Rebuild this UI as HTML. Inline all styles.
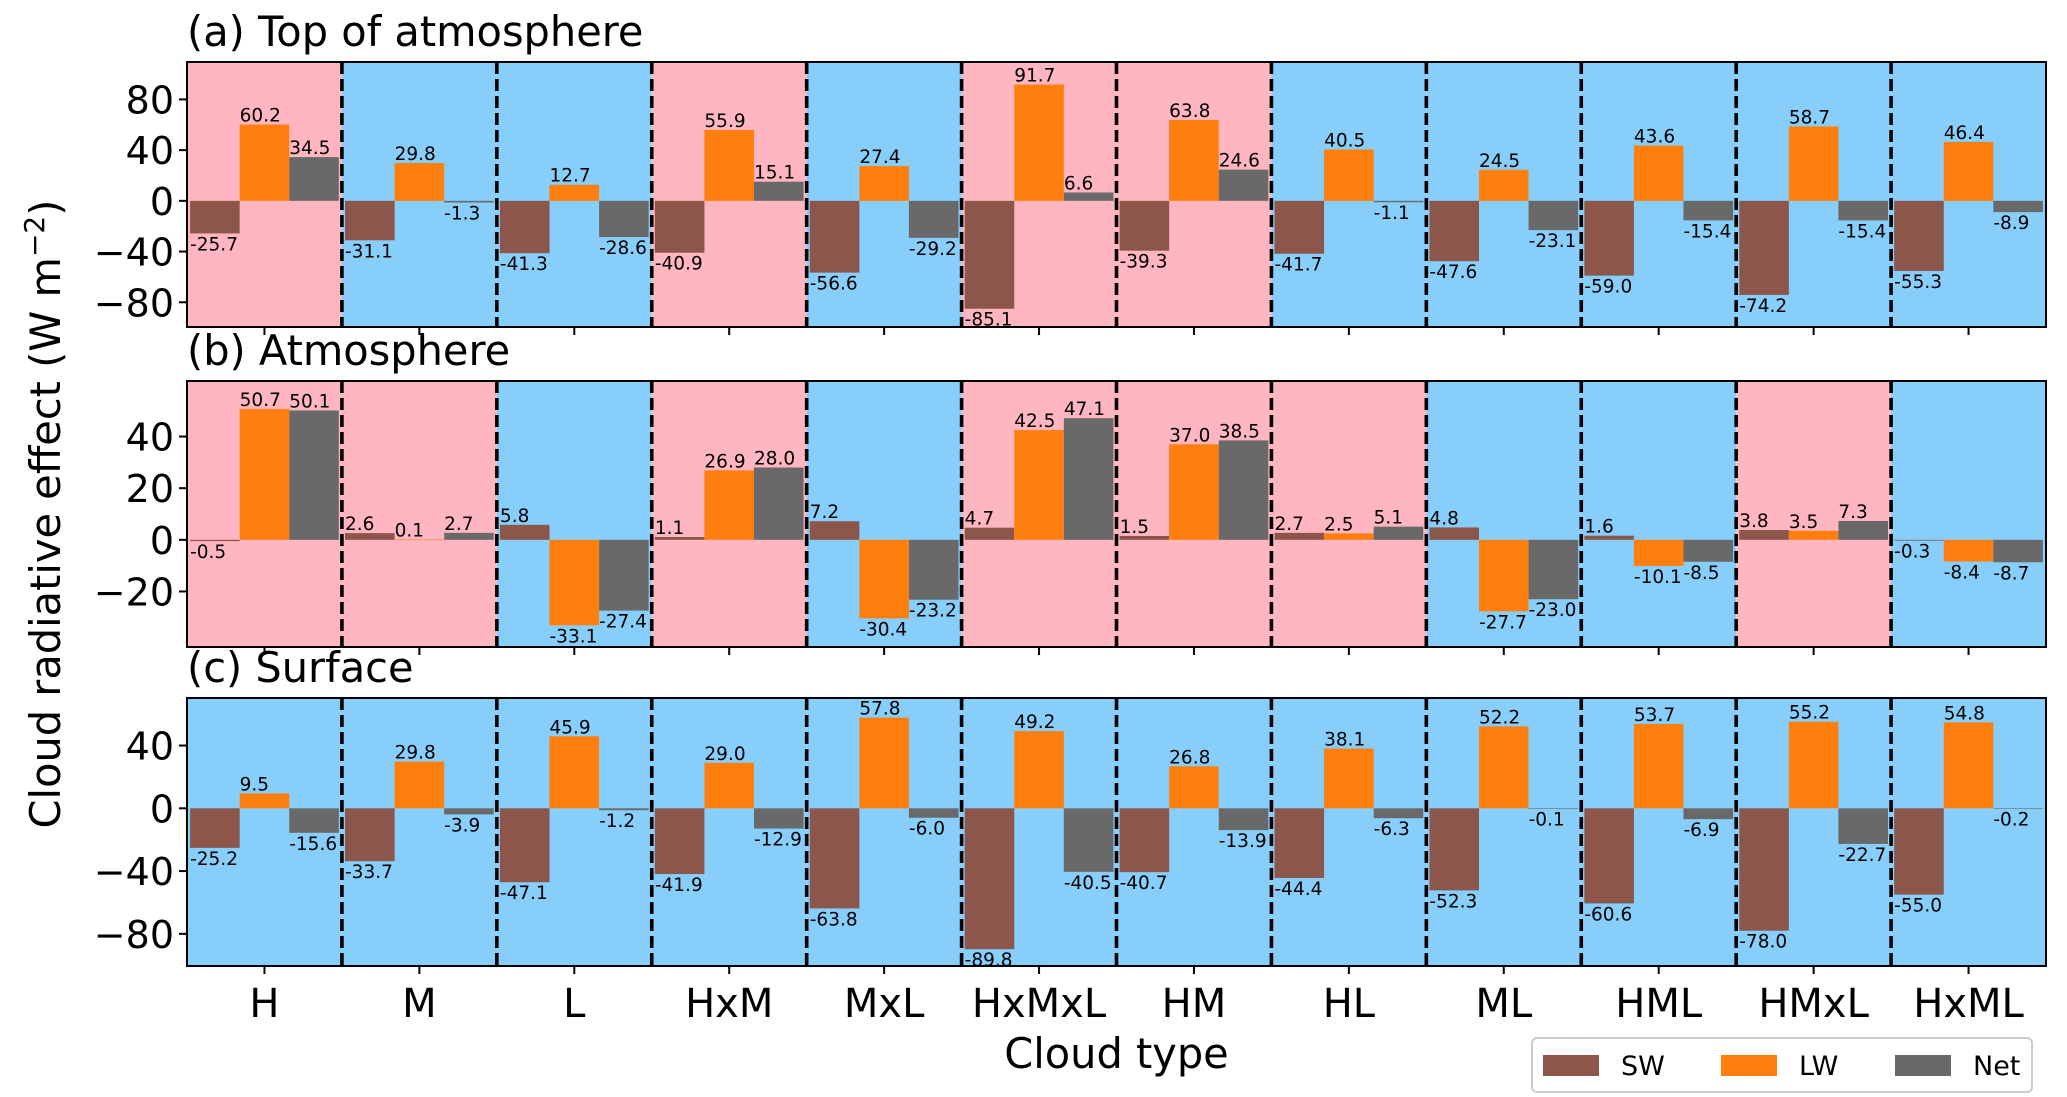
<!DOCTYPE html>
<html><head><meta charset="utf-8"><style>
html,body{margin:0;padding:0;background:#fff;}
svg{display:block;font-family:"DejaVu Sans","Liberation Sans",sans-serif;}
</style></head><body>
<svg id="chart" width="2067" height="1097" viewBox="0 0 2067 1097" xmlns="http://www.w3.org/2000/svg"></svg>
<script>
const categories = ["H","M","L","HxM","MxL","HxMxL","HM","HL","ML","HML","HMxL","HxML"];
const toaSW = [-25.7,-31.1,-41.3,-40.9,-56.6,-85.1,-39.3,-41.7,-47.6,-59.0,-74.2,-55.3];
const toaLW = [60.2,29.8,12.7,55.9,27.4,91.7,63.8,40.5,24.5,43.6,58.7,46.4];
const toaNet = [34.5,-1.3,-28.6,15.1,-29.2,6.6,24.6,-1.1,-23.1,-15.4,-15.4,-8.9];
const atmSW = [-0.5,2.6,5.8,1.1,7.2,4.7,1.5,2.7,4.8,1.6,3.8,-0.3];
const atmLW = [50.7,0.1,-33.1,26.9,-30.4,42.5,37.0,2.5,-27.7,-10.1,3.5,-8.4];
const atmNet = [50.1,2.7,-27.4,28.0,-23.2,47.1,38.5,5.1,-23.0,-8.5,7.3,-8.7];
const sfcSW = [-25.2,-33.7,-47.1,-41.9,-63.8,-89.8,-40.7,-44.4,-52.3,-60.6,-78.0,-55.0];
const sfcLW = [9.5,29.8,45.9,29.0,57.8,49.2,26.8,38.1,52.2,53.7,55.2,54.8];
const sfcNet = [-15.6,-3.9,-1.2,-12.9,-6.0,-40.5,-13.9,-6.3,-0.1,-6.9,-22.7,-0.2];
const toaTicks = [80,40,0,-40,-80];
const atmTicks = [40,20,0,-20];
const sfcTicks = [40,0,-40,-80];
const seriesNames = ["SW","LW","Net"];

const NS="http://www.w3.org/2000/svg";
const svg=document.getElementById('chart');
function mk(tag,attrs,parent){const e=document.createElementNS(NS,tag);for(const k in attrs)e.setAttribute(k,attrs[k]);(parent||svg).appendChild(e);return e;}
const colors={SW:"#8c564b",LW:"#ff7f0e",Net:"#696969"};
const X0=187,X1=2046;
const catW=(X1-X0)/categories.length;
const barW=0.32;
function xScale(i){return X0+i*catW;}

const panels=[
 {key:"toa",title:"(a) Top of atmosphere",top:62,bottom:327,ymin:-99.5,ymax:109.5,ticks:toaTicks,s:[toaSW,toaLW,toaNet]},
 {key:"atm",title:"(b) Atmosphere",top:381,bottom:647,ymin:-41.5,ymax:61.5,ticks:atmTicks,s:[atmSW,atmLW,atmNet]},
 {key:"sfc",title:"(c) Surface",top:698,bottom:966,ymin:-100.5,ymax:70.3,ticks:sfcTicks,s:[sfcSW,sfcLW,sfcNet]}
];

panels.forEach(p=>{
  const g=mk('g',{});
  
  
  const y=v=>p.top+(p.ymax-v)/(p.ymax-p.ymin)*(p.bottom-p.top);
  categories.forEach((c,i)=>{
    const net=p.s[2][i];
    const r=mk('rect',{x:xScale(i),y:p.top,width:catW,height:p.bottom-p.top,fill:net>0?"#ffb6c1":"#87cefa"},g);
    
    
  });
  p.s.forEach((arr,si)=>{
    arr.forEach((v,i)=>{
      const cx=xScale(i+0.5);
      const bx=cx+(si-1.5)*barW*catW;
      const bw=barW*catW;
      const y0=y(0),yv=y(v);
      const r=mk('rect',{x:bx,y:Math.min(y0,yv),width:bw,height:Math.max(Math.abs(yv-y0),0.6),fill:colors[seriesNames[si]]},g);
      
      
      const t=mk('text',{x:bx,y:v>=0?yv-3:yv+17,'font-size':18.5,fill:"#000"},g);
      t.textContent=v.toFixed(1);
      
      
    });
  });
  for(let i=1;i<categories.length;i++){
    const l=mk('line',{x1:xScale(i),x2:xScale(i),y1:p.top,y2:p.bottom,stroke:"#000","stroke-width":3.6,"stroke-dasharray":"12,5"},g);
    
    
  }
  const f=mk('rect',{x:X0,y:p.top,width:X1-X0,height:p.bottom-p.top,fill:"none",stroke:"#000","stroke-width":2},g);
  
  
  p.ticks.forEach(tv=>{
    const ty=y(tv);
    mk('line',{x1:X0-8,x2:X0,y1:ty,y2:ty,stroke:"#000","stroke-width":2},g);
    const t=mk('text',{x:X0-13,y:ty+14,'font-size':38,'text-anchor':'end',fill:"#000"},g);
    t.textContent=tv<0?"\u2212"+Math.abs(tv):String(tv);
    
    
  });
  categories.forEach((c,i)=>{
    const cx=xScale(i+0.5);
    mk('line',{x1:cx,x2:cx,y1:p.bottom,y2:p.bottom+8,stroke:"#000","stroke-width":2},g);
  });
  const tt=mk('text',{x:X0,y:p.top-16,'font-size':41.5,fill:"#000"},g);
  tt.textContent=p.title;
  
  
});

categories.forEach((c,i)=>{
  const t=mk('text',{x:xScale(i+0.5),y:1017,'font-size':40,'text-anchor':'middle',fill:"#000"});
  t.textContent=c;
  
  
});
const xl=mk('text',{x:(X0+X1)/2,y:1068,'font-size':41.5,'text-anchor':'middle',fill:"#000"});
xl.textContent="Cloud type";


const yl=mk('text',{x:0,y:0,'font-size':41.5,'text-anchor':'middle',fill:"#000",transform:"translate(60,514) rotate(-90)"});
yl.innerHTML='Cloud radiative effect (W m<tspan baseline-shift="super" font-size="28">\u22122</tspan>)';



const lg=mk('g',{});


mk('rect',{x:1532,y:1038,width:500,height:54,rx:5,fill:"#fff",stroke:"#cccccc","stroke-width":2},lg);
const lx=[1543,1721,1895];
seriesNames.forEach((n,i)=>{
  const e=mk('g',{},lg);
  
  
  mk('rect',{x:lx[i],y:1055,width:56,height:21,fill:colors[n]},e);
  const t=mk('text',{x:lx[i]+78,y:1075,'font-size':27,fill:"#000"},e);
  t.textContent=n;
});
</script>
</body></html>
